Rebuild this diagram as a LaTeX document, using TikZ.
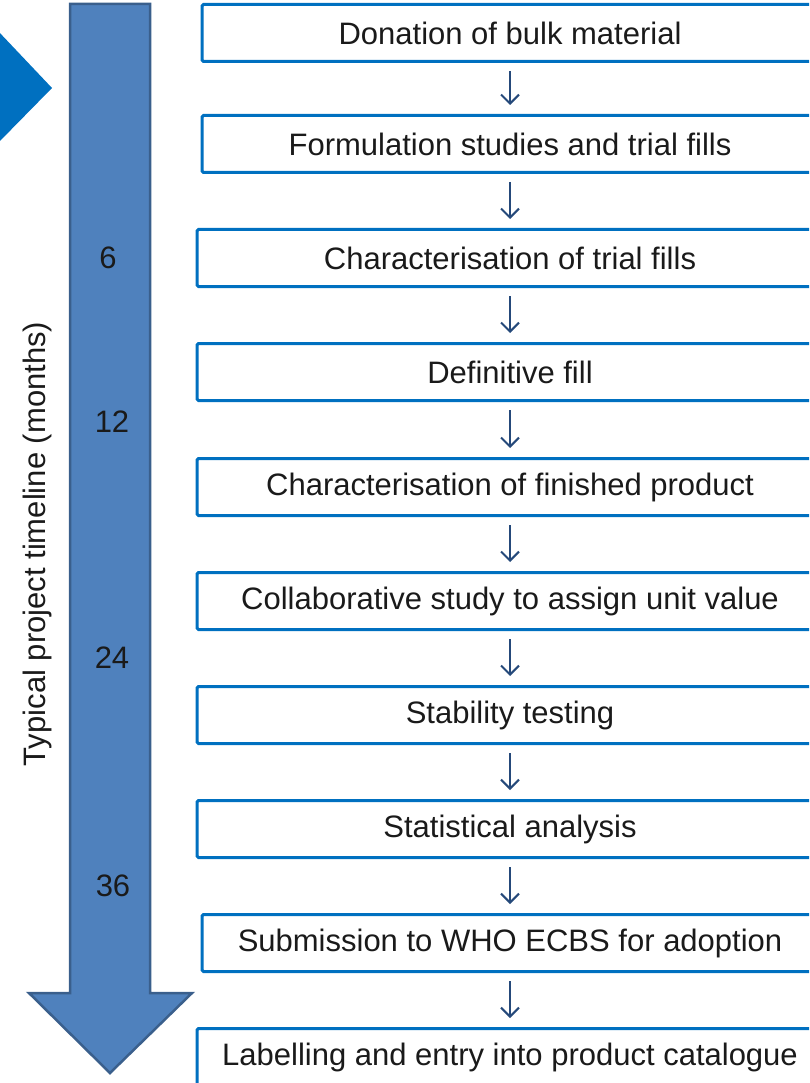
\documentclass[tikz,border=0pt]{standalone}
\usepackage{fontspec}
\setmainfont{Liberation Sans}
\usetikzlibrary{arrows.meta}
\definecolor{boxblue}{HTML}{0070C0}
\definecolor{arrowfill}{HTML}{4F81BD}
\definecolor{arrowedge}{HTML}{3A5F8C}
\definecolor{flowcol}{HTML}{25497A}
\definecolor{txt}{HTML}{1A1A1A}
\begin{document}
\begin{tikzpicture}[x=1pt,y=-1pt,
  stepbox/.style={draw=boxblue, line width=3pt, fill=white, minimum height=57pt,
    rounded corners=1.5pt, inner sep=0pt, text=txt, font=\fontsize{31}{37}\selectfont},
  flow/.style={draw=flowcol, line width=2pt, -{Straight Barb[length=9pt,width=18pt,line width=2pt]}},
  tick/.style={text=txt, font=\fontsize{31}{37}\selectfont},
]
\useasboundingbox (0,0) rectangle (809,1083);
\begin{scope}
\clip (0,0) rectangle (809,1083);

% corner pointer
\fill[boxblue] (-2,31) -- (52,88) -- (-2,143) -- cycle;

% timeline arrow
\draw[fill=arrowfill, draw=arrowedge, line width=2.5pt, line join=miter]
  (70,4) -- (150,4) -- (150,993) -- (192,993) -- (110,1073) -- (29,993) -- (70,993) -- cycle;

\node[tick] (m6)  at (108,258) {6};
\node[tick] (m12) at (112,422) {12};
\node[tick] (m24) at (112,658) {24};
\node[tick] (m36) at (113,886) {36};

\node[tick, rotate=90] (axis) at (37,544) {Typical project timeline (months)};

% process steps
\node[stepbox, minimum width=616pt] (b1)  at (510,33)   {Donation of bulk material};
\node[stepbox, minimum width=616pt] (b2)  at (510,144)  {Formulation studies and trial fills};
\node[stepbox, minimum width=626pt] (b3)  at (510,258)  {Characterisation of trial fills};
\node[stepbox, minimum width=626pt] (b4)  at (510,372)  {Definitive fill};
\node[stepbox, minimum width=626pt] (b5)  at (510,487)  {Characterisation of finished product};
\node[stepbox, minimum width=626pt] (b6)  at (510,601)  {Collaborative study to assign unit value};
\node[stepbox, minimum width=626pt] (b7)  at (510,715)  {Stability testing};
\node[stepbox, minimum width=626pt] (b8)  at (510,829)  {Statistical analysis};
\node[stepbox, minimum width=616pt] (b9)  at (510,943)  {Submission to WHO ECBS for adoption};
\node[stepbox, minimum width=626pt] (b10) at (510,1057) {Labelling and entry into product catalogue};

\foreach \a/\b in {b1/b2,b2/b3,b3/b4,b4/b5,b5/b6,b6/b7,b7/b8,b8/b9,b9/b10}
  \draw[flow] ([yshift=-8pt]\a.south) -- ([yshift=9pt]\b.north);
\end{scope}
\end{tikzpicture}
\end{document}
